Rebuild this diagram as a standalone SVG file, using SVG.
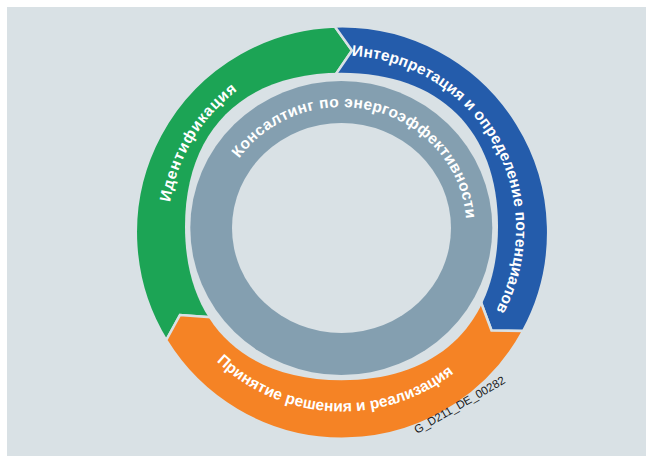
<svg xmlns="http://www.w3.org/2000/svg" width="646" height="456" viewBox="0 0 646 456">
<defs>
<style>
.seg{stroke:#d9e1e5;stroke-width:2.5;stroke-linejoin:miter}
.bg{fill:#d9e1e5}
.lbl{font-family:"Liberation Sans",Arial,sans-serif;font-weight:bold;font-size:15.5px;fill:#ffffff}
.code{font-family:"Liberation Sans",Arial,sans-serif;font-size:11.5px;fill:#1a1a1a}
</style>
<path id="pGreen" d="M170.14 202.28 A174 174 0 0 1 237.28 90.54"/>
<path id="pBlue" d="M351.71 55.77 A174 174 0 0 1 496.06 310.38"/>
<path id="pGrey" d="M239.11 158.6 A125 121 0 0 1 466.2 219.56"/>
<path id="pOrange" d="M216.49 361.3 A182 182 0 0 0 453.8 373.11"/>
</defs>
<rect width="646" height="456" fill="#ffffff"/>
<rect x="7" y="7" width="639" height="449" class="bg"/>
<g id="node-identification">
<path class="seg" fill="#1ca455" d="M341.5 226.5 L210.5 317.3 L180 315 L166.19 340.24 A206.2 206.2 0 0 1 334.8 26.43 L352 50.5 L334.9 75.5 Z"/>
</g>
<g id="node-interpretation">
<path class="seg" fill="#245cab" d="M341.5 226.5 L334.9 75.5 L352 50.5 L334.8 26.43 A206.2 206.2 0 0 1 523.21 330.89 L491.5 330.5 L480.2 300.2 Z"/>
</g>
<g id="node-decision">
<path class="seg" fill="#f58325" d="M341.5 226.5 L480.2 300.2 L491.5 330.5 L523.21 330.89 A206.2 206.2 0 0 1 166.19 340.24 L180 315 L210.5 317.3 Z"/>
</g>
<path class="bg" d="M498 226.5 C498 322.75 439.47 380.25 341.5 380.25 C243.53 380.25 185 322.75 185 226.5 C185 130.25 243.53 72.75 341.5 72.75 C439.47 72.75 498 130.25 498 226.5 Z"/>
<g id="node-consulting">
<ellipse cx="341.3" cy="228" rx="151" ry="147" fill="#849fb0"/>
<ellipse cx="341.5" cy="228" rx="109.5" ry="105" class="bg"/>
<text class="lbl"><textPath href="#pGrey" textLength="302.7" lengthAdjust="spacing">Консалтинг по энергоэффективности</textPath></text>
</g>
<g id="labels">
<text class="lbl"><textPath href="#pGreen" textLength="133.6" lengthAdjust="spacing">Идентификация</textPath></text>
<text class="lbl"><textPath href="#pBlue" textLength="347.7" lengthAdjust="spacing">Интерпретация и определение потенциалов</textPath></text>
<text class="lbl"><textPath href="#pOrange" textLength="258.9" lengthAdjust="spacing">Принятие решения и реализация</textPath></text>
</g>
<text class="code" transform="translate(417,434) rotate(-30)">G_D211_DE_00282</text>
</svg>
